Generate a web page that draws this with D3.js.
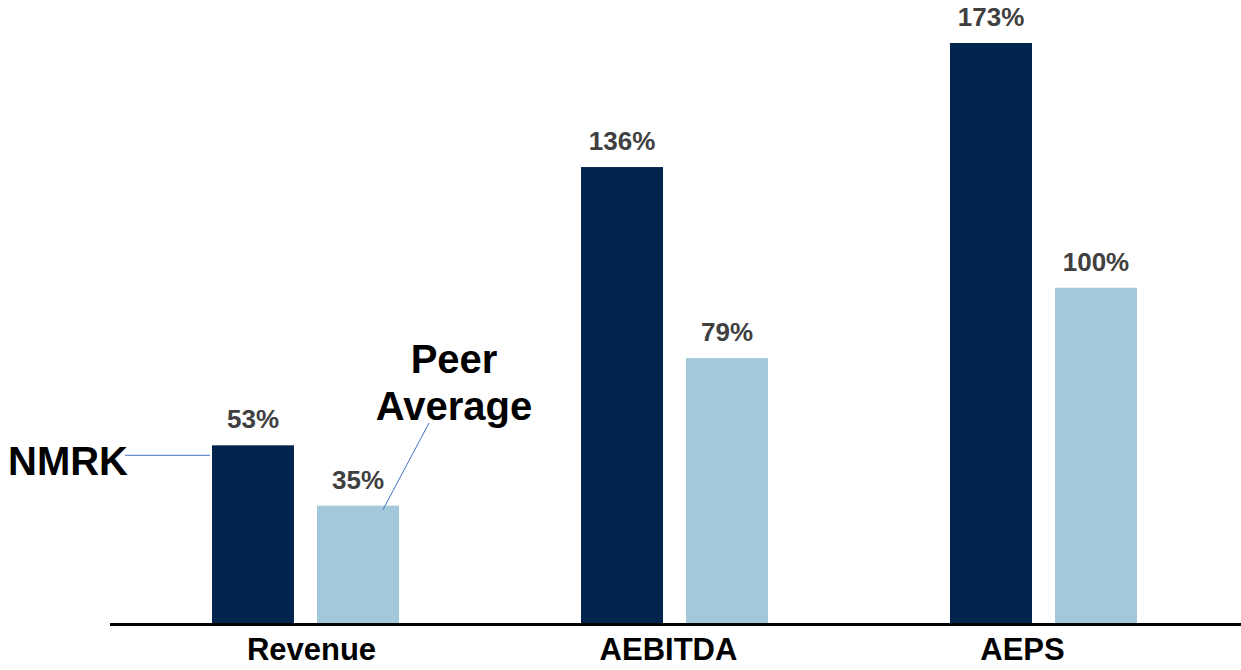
<!DOCTYPE html>
<html>
<head>
<meta charset="utf-8">
<script src="https://cdn.jsdelivr.net/npm/d3@7"></script>
<style>
  html, body { margin: 0; padding: 0; background: #fff; }
  svg { display: block; font-family: "Liberation Sans", Arial, sans-serif; }
</style>
</head>
<body>
<svg id="chart" width="1241" height="670"></svg>
<script>
const categories = ["Revenue", "AEBITDA", "AEPS"];
const seriesNames = ["NMRK", "Peer Average"];
const nmrkValues = [53, 136, 173];
const peerValues = [35, 79, 100];
const valueLabels = [["53%", "35%"], ["136%", "79%"], ["173%", "100%"]];
const colors = ["#02244D", "#A2C8DA"];

const svg = d3.select("#chart");
const baseY = 623;

const x = d3.scaleBand().domain(categories).range([121, 1228]).padding(0);
const xSub = d3.scaleBand().domain(seriesNames).range([-93.5, 93.5]).paddingInner(0.219).paddingOuter(0);
const y = d3.scaleLinear().domain([0, 173]).range([baseY, 43]);

const data = categories.map((c, i) => ({
  cat: c,
  vals: [
    { s: seriesNames[0], v: nmrkValues[i], label: valueLabels[i][0], color: colors[0] },
    { s: seriesNames[1], v: peerValues[i], label: valueLabels[i][1], color: colors[1] }
  ]
}));

const groups = svg.selectAll("g.grp").data(data).enter().append("g")
  .attr("class", "grp")
  .attr("transform", d => `translate(${x(d.cat) + x.bandwidth() / 2},0)`);

groups.selectAll("rect").data(d => d.vals).enter().append("rect")
  .attr("x", d => xSub(d.s))
  .attr("width", xSub.bandwidth())
  .attr("y", d => y(d.v))
  .attr("height", d => y(0) - y(d.v))
  .attr("fill", d => d.color);

groups.selectAll("text.val").data(d => d.vals).enter().append("text")
  .attr("class", "val")
  .attr("x", d => xSub(d.s) + xSub.bandwidth() / 2)
  .attr("y", d => y(d.v) - 17)
  .attr("text-anchor", "middle")
  .attr("font-size", 26)
  .attr("font-weight", "bold")
  .attr("fill", "#404040")
  .text(d => d.label);

// baseline axis
const xAxis = d3.axisBottom(x).tickSize(0).tickPadding(13);
const ax = svg.append("g").attr("transform", `translate(0,${baseY + 1.5})`).call(xAxis);
ax.select(".domain").attr("d", "M110,0H1241").attr("stroke", "#000").attr("stroke-width", 3);
const labelNudge = { "Revenue": 6, "AEBITDA": -6, "AEPS": -21 };
ax.selectAll(".tick text")
  .attr("font-family", "'Liberation Sans', Arial, sans-serif")
  .attr("font-size", 31)
  .attr("font-weight", "bold")
  .attr("fill", "#000")
  .attr("dx", d => labelNudge[d])
  .attr("dy", "0.71em");

// annotations
const cx0 = x(categories[0]) + x.bandwidth() / 2;
const nmrkBar = { x: cx0 + xSub(seriesNames[0]), y: y(nmrkValues[0]) };
const peerBar = { x: cx0 + xSub(seriesNames[1]), y: y(peerValues[0]) };

svg.append("line")
  .attr("x1", 125).attr("y1", nmrkBar.y + 10)
  .attr("x2", nmrkBar.x - 2).attr("y2", nmrkBar.y + 10)
  .attr("stroke", "#4472C4").attr("stroke-width", 1);
svg.append("text")
  .attr("x", 8).attr("y", 475)
  .attr("font-size", 40).attr("font-weight", "bold").attr("fill", "#000")
  .text(seriesNames[0]);

svg.append("line")
  .attr("x1", 429).attr("y1", 423)
  .attr("x2", peerBar.x + 66).attr("y2", peerBar.y + 4)
  .attr("stroke", "#4472C4").attr("stroke-width", 1);
const peerText = svg.append("text")
  .attr("x", 454).attr("y", 373)
  .attr("text-anchor", "middle")
  .attr("font-size", 40).attr("font-weight", "bold").attr("fill", "#000");
peerText.append("tspan").attr("x", 454).attr("y", 373).text("Peer");
peerText.append("tspan").attr("x", 454).attr("y", 420).text("Average");
</script>
</body>
</html>
